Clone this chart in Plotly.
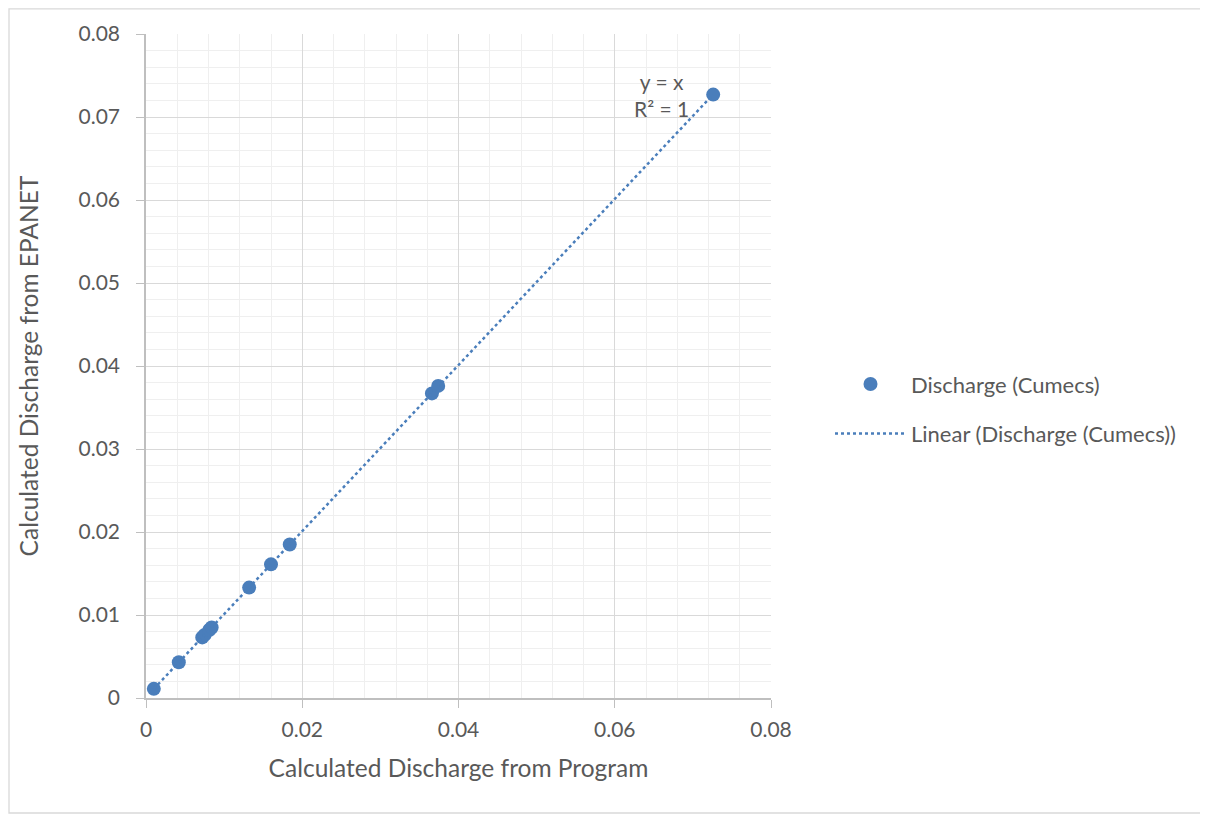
import numpy as np
import plotly.graph_objects as go

# discharge values (cumecs)
q_program = [0.0010, 0.0042, 0.0072, 0.0075, 0.0081, 0.0084, 0.0132, 0.0160, 0.0184, 0.0366, 0.0374, 0.0726]
q_epanet = [0.0011, 0.0043, 0.0073, 0.0076, 0.0082, 0.0085, 0.0133, 0.0161, 0.0185, 0.0367, 0.0376, 0.0727]

series_name = "Discharge (Cumecs)"
trend_name = "Linear (Discharge (Cumecs))"
x_title = "Calculated Discharge from Program"
y_title = "Calculated Discharge from EPANET"
eq_text = "y = x<br>R² = 1"

blue = "#4a7ebb"
txt = "#595959"
font_family = "Lato, 'Open Sans', sans-serif"

# linear trendline over data range
slope, icpt = np.polyfit(q_program, q_epanet, 1)
tx = np.array([min(q_program), max(q_program)])
ty = slope*tx + icpt

fig = go.Figure()
fig.add_trace(go.Scatter(
	x=q_program, y=q_epanet, mode="markers", name=series_name,
	marker=dict(color=blue, size=14), legendgroup="a"))
fig.add_trace(go.Scatter(
	x=tx, y=ty, mode="lines", name=trend_name,
	line=dict(color=blue, width=2.5, dash="dot"), legendgroup="b"))

axis_common = dict(
	range=[0, 0.08], showgrid=True, gridcolor="#d9d9d9", gridwidth=1.3,
	showline=True, linecolor="#bfbfbf", linewidth=1.5,
	ticks="outside", ticklen=8, tickcolor="#bfbfbf", tickwidth=1.3,
	zeroline=False, automargin=False,
	tickfont=dict(size=21, color=txt, family=font_family),
	tickformat="~g")

fig.update_xaxes(**axis_common, dtick=0.02, ticklabelstandoff=4,
	minor=dict(dtick=0.004, showgrid=True, gridcolor="#efefef", gridwidth=1.3),
	title=dict(text=x_title, font=dict(size=24.5, color=txt, family=font_family), standoff=20))
fig.update_yaxes(**axis_common, dtick=0.01, ticklabelstandoff=12,
	minor=dict(dtick=0.002, showgrid=True, gridcolor="#efefef", gridwidth=1.3),
	title=dict(text=y_title, font=dict(size=24.5, color=txt, family=font_family), standoff=33))

fig.add_annotation(x=0.0660, y=0.0726, xref="x", yref="y", text=eq_text,
	showarrow=False, align="center",
	font=dict(size=21, color=txt, family=font_family))

# chart area border: top, left and bottom edges only (right edge is off-screen)
bx0, bx1, by0, by1 = -0.2192, 1.85, -0.1732, 1.0377
fig.add_shape(type="path", xref="paper", yref="paper",
	path=f"M {bx1},{by1} L {bx0},{by1} L {bx0},{by0} L {bx1},{by0}",
	line=dict(color="#d9d9d9", width=1.3), layer="below")

# page body has an 8px margin: shrink the figure so nothing overflows the window
fig.update_layout(
	width=1200, height=806,
	margin=dict(l=138, r=437, t=26, b=116, autoexpand=False),
	plot_bgcolor="white", paper_bgcolor="white",
	font=dict(family=font_family, color=txt),
	legend=dict(x=1.0944, y=0.435, xanchor="left", yanchor="middle",
		font=dict(size=22, color=txt, family=font_family),
		itemwidth=71, tracegroupgap=18, bgcolor="rgba(0,0,0,0)"),
	showlegend=True)

fig.write_html("out.html")
